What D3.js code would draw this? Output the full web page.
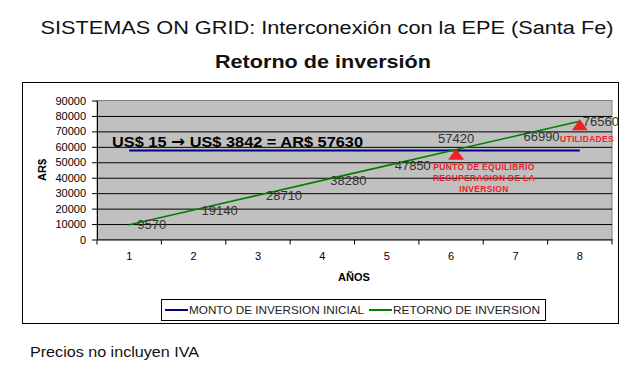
<!DOCTYPE html>
<html>
<head>
<meta charset="utf-8">
<script src="https://cdn.jsdelivr.net/npm/d3@7"></script>
<style>
  body { margin: 0; background: #fff; }
  svg { font-family: "Liberation Sans", Arial, sans-serif; }
</style>
</head>
<body>
<svg id="chart" width="640" height="380"></svg>
<script>
"use strict";

// data
var years = [1, 2, 3, 4, 5, 6, 7, 8];
var retorno = [9570, 19140, 28710, 38280, 47850, 57420, 66990, 76560];
var inversion = [57630, 57630, 57630, 57630, 57630, 57630, 57630, 57630];
var yTicks = [0, 10000, 20000, 30000, 40000, 50000, 60000, 70000, 80000, 90000];
var seriesNames = ["MONTO DE INVERSION INICIAL", "RETORNO DE INVERSION"];
var seriesColors = ["#000080", "#008000"];

var svg = d3.select("#chart");

// the source picture is a little stretched sideways, so stretch the long texts too
function stretch(sel, len) {
  sel.attr("textLength", len).attr("lengthAdjust", "spacingAndGlyphs");
}

// titles
svg.append("text").attr("x", 327).attr("y", 34).attr("text-anchor", "middle")
  .style("font-size", "18px").attr("fill", "#111")
  .text("SISTEMAS ON GRID: Interconexión con la EPE (Santa Fe)")
  .call(stretch, 573);
svg.append("text").attr("x", 323).attr("y", 68).attr("text-anchor", "middle")
  .style("font-size", "18.5px").style("font-weight", "bold").attr("fill", "#111")
  .text("Retorno de inversión")
  .call(stretch, 216);

// outer chart frame
svg.append("rect").attr("x", 22.5).attr("y", 82.5).attr("width", 596).attr("height", 241)
  .attr("fill", "#fff").attr("stroke", "#000");

var margin = {left: 97, top: 100.5, right: 612, bottom: 239.5};

var x = d3.scaleBand().domain(years).range([margin.left, margin.right]),
  y = d3.scaleLinear().domain([0, 90000]).range([margin.bottom, margin.top]);

var cx = function(d) { return x(d) + x.bandwidth() / 2; };

// plot area
svg.append("rect")
  .attr("x", margin.left).attr("y", margin.top)
  .attr("width", margin.right - margin.left).attr("height", margin.bottom - margin.top)
  .attr("fill", "#c0c0c0").attr("stroke", "#808080");

svg.append("g")
  .attr("transform", "translate(" + margin.left + ",0)")
  .call(d3.axisLeft(y).tickValues(yTicks.slice(1, -1)).tickSize(-(margin.right - margin.left)).tickFormat(""))
  .call(function(g) { g.select(".domain").remove(); })
  .selectAll("line").attr("stroke", "#000");

// y axis
var yAxis = svg.append("g")
  .attr("transform", "translate(" + margin.left + ",0)")
  .call(d3.axisLeft(y).tickValues(yTicks).tickSize(5).tickPadding(6).tickSizeOuter(0).tickFormat(d3.format("d")));
yAxis.selectAll("text").style("font-size", "11px").attr("fill", "#000").style("font-family", "Liberation Sans, Arial");
yAxis.selectAll("line, path").attr("stroke", "#000");

// x axis, ticks on the band edges
var xAxis = svg.append("g")
  .attr("transform", "translate(0," + margin.bottom + ")")
  .call(d3.axisBottom(x).tickSize(0).tickPadding(13));
xAxis.selectAll("text").style("font-size", "11px").attr("fill", "#000").style("font-family", "Liberation Sans, Arial");
xAxis.select(".domain").attr("stroke", "#000");
xAxis.selectAll(".edge")
  .data(years.concat([null]))
  .enter().append("line")
  .attr("x1", function(d, i) { return i < years.length ? x(d) : margin.right; })
  .attr("x2", function(d, i) { return i < years.length ? x(d) : margin.right; })
  .attr("y1", 0).attr("y2", 5).attr("stroke", "#000");

// axis titles
svg.append("text").attr("x", 354).attr("y", 281).attr("text-anchor", "middle")
  .style("font-size", "11px").style("font-weight", "bold").text("AÑOS");
svg.append("text").attr("transform", "translate(46,170) rotate(-90)").attr("text-anchor", "middle")
  .style("font-size", "11px").style("font-weight", "bold").text("AR$");

// lines
var line = d3.line().x(function(d, i) { return cx(years[i]); }).y(function(d) { return y(d); });

svg.append("path").datum(inversion).attr("d", line)
  .attr("fill", "none").attr("stroke", seriesColors[0]).attr("stroke-width", 2);
svg.append("path").datum(retorno).attr("d", line)
  .attr("fill", "none").attr("stroke", seriesColors[1]).attr("stroke-width", 1.6);

// value labels
svg.selectAll(".val")
  .data(retorno)
  .enter().append("text")
  .attr("class", "val")
  .attr("x", function(d, i) {
    if (i == 5) return cx(years[i]) - 13;
    if (i == years.length - 1) return cx(years[i]) + 3;
    return cx(years[i]) + 8;
  })
  .attr("y", function(d, i) { return i == 5 ? y(d) - 12 : y(d); })
  .attr("dy", "0.36em")
  .style("font-size", "13px").attr("fill", "#333")
  .text(function(d) { return d; });

// headline on the plot
var head = svg.append("text").attr("x", 112).attr("y", 147)
  .style("font-size", "15.5px").style("font-weight", "bold").attr("fill", "#000");
head.append("tspan").text("US$ 15 ");
head.append("tspan").style("font-family", "DejaVu Sans").style("font-size", "16px").text("\u2192");
head.append("tspan").text(" US$ 3842 = AR$ 57630");
head.call(stretch, 251);

// red markers: break-even and profits
var marks = [5, 7];
svg.selectAll(".tri")
  .data(marks)
  .enter().append("path")
  .attr("class", "tri")
  .attr("d", function(i) {
    var px = cx(years[i]) + (i == 5 ? 5 : 0), py = y(retorno[i]) - 2;
    return "M" + px + "," + py + "L" + (px + 8) + "," + (py + 11) + "L" + (px - 8) + "," + (py + 11) + "Z";
  })
  .attr("fill", "#f0202a");

var note = svg.append("text").attr("text-anchor", "middle")
  .style("font-size", "8.5px").style("font-weight", "bold").attr("fill", "#f0202a")
  .style("letter-spacing", "0.3px");
note.selectAll("tspan")
  .data(["PUNTO DE EQUILIBRIO", "RECUPERACION DE LA", "INVERSION"])
  .enter().append("tspan")
  .attr("x", 484).attr("y", function(d, i) { return 170 + i * 11; })
  .text(function(d) { return d; });
svg.append("text").attr("x", 587).attr("y", 142).attr("text-anchor", "middle")
  .style("font-size", "8.5px").style("font-weight", "bold").attr("fill", "#f0202a")
  .style("letter-spacing", "0.3px")
  .text("UTILIDADES");

// legend
svg.append("rect").attr("x", 161.5).attr("y", 299.5).attr("width", 384).attr("height", 21)
  .attr("fill", "#fff").attr("stroke", "#000");
var legendX = [165, 369],
  legendLen = [175, 147];
var leg = svg.selectAll(".leg")
  .data(seriesNames)
  .enter().append("g")
  .attr("transform", function(d, i) { return "translate(" + legendX[i] + ",310)"; });
leg.append("line").attr("x1", 0).attr("x2", 23).attr("y1", 0).attr("y2", 0)
  .attr("stroke", function(d, i) { return seriesColors[i]; }).attr("stroke-width", 2);
leg.append("text").attr("x", 24).attr("dy", "0.36em")
  .style("font-size", "11px").attr("fill", "#222")
  .attr("textLength", function(d, i) { return legendLen[i]; })
  .attr("lengthAdjust", "spacingAndGlyphs")
  .text(function(d) { return d; });

// footnote
svg.append("text").attr("x", 30).attr("y", 357)
  .style("font-size", "14px").attr("fill", "#111")
  .text("Precios no incluyen IVA")
  .call(stretch, 169);
</script>
</body>
</html>
